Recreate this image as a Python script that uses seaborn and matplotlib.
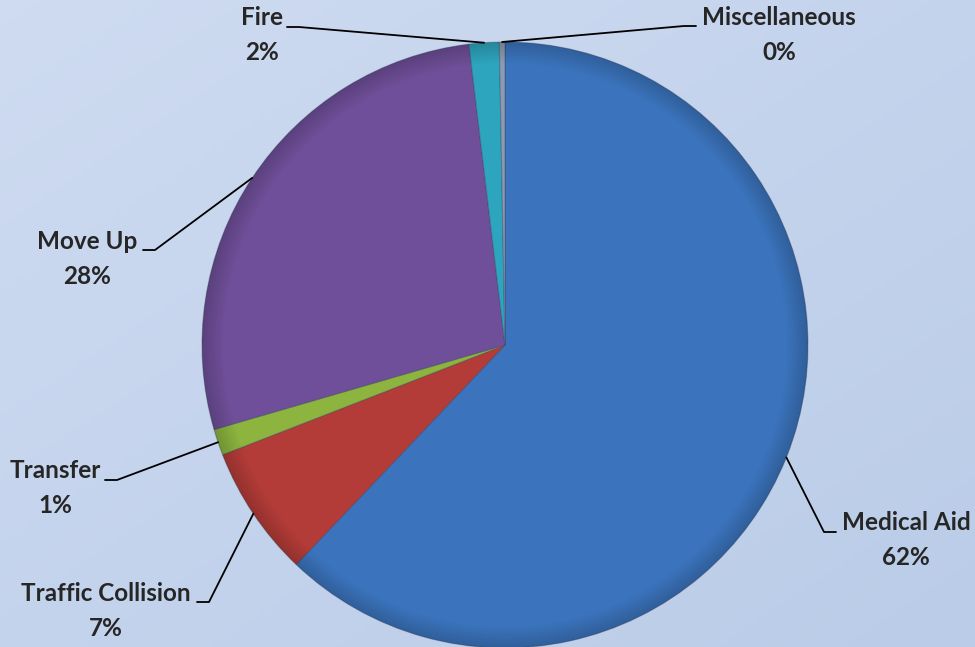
import numpy as np
import matplotlib
matplotlib.use("Agg")
import matplotlib.pyplot as plt
import seaborn as sns

categories = ["Medical Aid", "Traffic Collision", "Transfer", "Move Up", "Fire", "Miscellaneous"]
values = [62.1, 7.0, 1.4, 27.6, 1.6, 0.3]
colors = ["#3b74bd", "#b43c38", "#8cb43f", "#6f4f99", "#2ea5be", "#8d9bb0"]

# label placement (layout, in pixel units of the canvas)
label_pos = {
    "Medical Aid": (906, 540),
    "Traffic Collision": (106, 611),
    "Transfer": (55, 488),
    "Move Up": (87, 259),
    "Fire": (262, 35),
    "Miscellaneous": (779, 35),
}
elbow = {  # point where the leader line meets the label, and direction of the short tick
    "Medical Aid": (836, 532, -1),
    "Traffic Collision": (197, 602, 1),
    "Transfer": (105, 480, 1),
    "Move Up": (143, 250, 1),
    "Fire": (287, 27, 1),
    "Miscellaneous": (696, 26, -1),
}

sns.set_theme(style="white")
plt.rcParams["font.family"] = ["Lato", "DejaVu Sans"]

W, H = 975, 647
fig = plt.figure(figsize=(W / 100, H / 100), dpi=100)
ax = fig.add_axes([0, 0, 1, 1])

# background gradient
yy, xx = np.mgrid[0:1:200j, 0:1:300j]
t = 0.5 * xx + 0.5 * yy
c1 = np.array([0.81, 0.86, 0.945])
c2 = np.array([0.73, 0.80, 0.91])
bg = c1[None, None, :] * (1 - t[..., None]) + c2[None, None, :] * t[..., None]
ax.imshow(bg, extent=[0, W, H, 0], aspect="auto", zorder=0)

cx, cy, R = 505, 345, 303
# y-axis inverted: counterclock=True draws visually clockwise
wedges, _ = ax.pie(values, colors=colors, startangle=-90, counterclock=True,
                   center=(cx, cy), radius=R, frame=True,
                   wedgeprops=dict(edgecolor=(0.2, 0.25, 0.35, 0.35), linewidth=0.8))
ax.set_xlim(0, W)
ax.set_ylim(H, 0)
ax.set_aspect("equal")
ax.axis("off")

# radial shading for a bevelled look
r = np.hypot(*np.mgrid[-1:1:400j, -1:1:400j])
shade = np.zeros((400, 400, 4))
shade[..., 3] = np.clip((r - 0.93) / 0.07, 0, 1) * 0.18
im = ax.imshow(shade, extent=[cx - R, cx + R, cy + R, cy - R], zorder=3)
circ = plt.Circle((cx, cy), R, transform=ax.transData)
im.set_clip_path(circ)

total = sum(values)
for w, name, v in zip(wedges, categories, values):
    mid = np.deg2rad((w.theta1 + w.theta2) / 2)
    ax_pt = (cx + R * np.cos(mid), cy + R * np.sin(mid))
    ex, ey, d = elbow[name]
    ax.plot([ax_pt[0], ex + 12 * d, ex], [ax_pt[1], ey, ey], color="black", lw=1.3, zorder=4)
    lx, ly = label_pos[name]
    ax.text(lx, ly, f"{name}\n{round(v / total * 100):.0f}%", ha="center", va="center",
            fontsize=17.5, fontweight="bold", linespacing=1.6, zorder=5)

fig.savefig("out.png", dpi=100)
